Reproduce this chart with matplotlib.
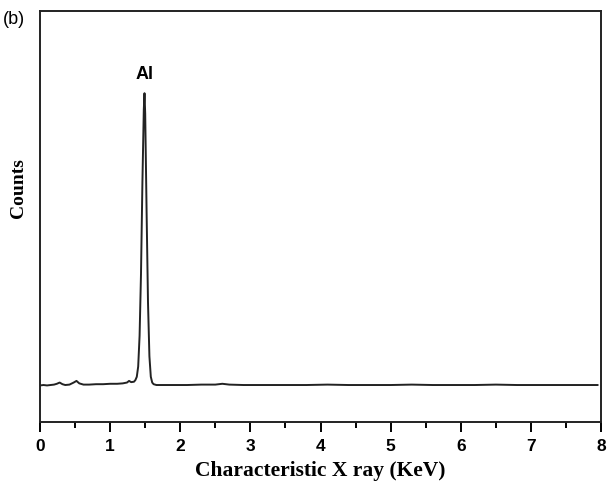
import numpy as np
import matplotlib.pyplot as plt

# Espectro EDS (energía en keV, cuentas en unidades arbitrarias)
energia = [0.00, 0.05, 0.10, 0.15, 0.20, 0.24, 0.28, 0.32, 0.36, 0.42, 0.48, 0.52, 0.56, 0.62,
           0.70, 0.80, 0.90, 1.00, 1.10, 1.18, 1.24, 1.27, 1.30, 1.34, 1.36, 1.38, 1.40, 1.42,
           1.44, 1.46, 1.48, 1.49, 1.50, 1.52, 1.54, 1.56, 1.58, 1.60, 1.62, 1.66, 1.75, 1.90,
           2.10, 2.30, 2.50, 2.60, 2.70, 2.90, 3.20, 3.50, 3.80, 4.10, 4.40, 4.70, 5.00, 5.30,
           5.60, 5.90, 6.20, 6.50, 6.80, 7.10, 7.40, 7.70, 7.95]
cuentas = [8.9, 9.0, 8.9, 9.0, 9.1, 9.3, 9.6, 9.2, 9.0, 9.1, 9.6, 10.0, 9.4, 9.1,
           9.1, 9.2, 9.2, 9.3, 9.3, 9.4, 9.6, 10.0, 9.7, 9.8, 10.2, 11.0, 13.5, 21.0,
           36.0, 58.0, 76.0, 80.0, 75.0, 51.0, 29.0, 16.0, 11.0, 9.6, 9.2, 9.0, 9.0, 9.0,
           9.0, 9.1, 9.1, 9.3, 9.1, 9.0, 9.0, 9.0, 9.0, 9.1, 9.0, 9.0, 9.0, 9.1,
           9.0, 9.0, 9.0, 9.1, 9.0, 9.0, 9.0, 9.0, 9.0]

fig = plt.figure(figsize=(6.09, 4.93), dpi=100)
ax = fig.add_axes([0.0657, 0.144, 0.9212, 0.8337])

ax.plot(energia, cuentas, color='#222222', linewidth=1.4)

ax.set_xlim(0, 8)
ax.set_ylim(0, 100)
ax.set_xticks(range(0, 9))
ax.set_xticks(np.arange(0.5, 8, 1.0), minor=True)
ax.set_yticks([])
ax.tick_params(axis='x', which='major', direction='out', length=7, width=1.4, pad=5)
ax.tick_params(axis='x', which='minor', direction='out', length=4, width=1.4)
for lbl in ax.get_xticklabels():
    lbl.set_fontweight('bold')
    lbl.set_fontsize(12.5)
    lbl.set_family('Liberation Sans')
for s in ax.spines.values():
    s.set_linewidth(1.4)
    s.set_color('#222222')

ax.set_xlabel('Characteristic X ray (KeV)', family='Liberation Serif', fontweight='bold',
              fontsize=15.5, labelpad=5)
ax.set_ylabel('Counts', family='Liberation Serif', fontweight='bold', fontsize=14)
ax.yaxis.set_label_coords(-0.024, 0.57)

ax.text(1.49, 84.5, 'Al', ha='center', va='center', fontsize=13, fontweight='bold',
        family='Liberation Sans')
fig.text(0.005, 0.96, '(b)', ha='left', va='center', fontsize=13, family='Liberation Sans')

fig.savefig('out.png', dpi=100)
